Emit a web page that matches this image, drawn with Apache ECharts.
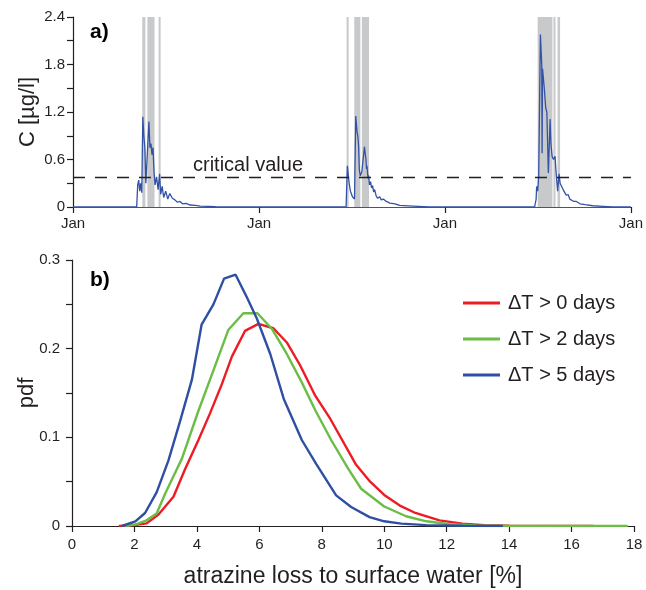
<!DOCTYPE html>
<html>
<head>
<meta charset="utf-8">
<title>atrazine loss</title>
<script src="https://cdn.jsdelivr.net/npm/echarts@6.0.0/dist/echarts.min.js"></script>
<style>
    html, body { margin: 0; padding: 0; background: #fff; }
    #chart { width: 646px; height: 590px; }
</style>
</head>
<body>
<div id="chart"></div>
<script>
'use strict';

// a) Konzentration, Tage ab dem ersten Januar
var yearTicks = [0, 365, 730, 1095];
var criticalValue = 0.37;

var concYear1 = [[0, 0], [125, 0], [127, 0.28], [129, 0.34], [131, 0.2], [133, 0.3], [135, 0.18],
    [137, 1.14], [139, 0.9], [141, 0.75], [143, 0.3], [145, 0.28], [149, 1.08], [151, 0.75],
    [153, 0.8], [155, 0.66], [157, 0.75], [159, 0.45], [161, 0.28], [164, 0.38], [167, 0.22],
    [170, 0.42], [172, 0.16], [175, 0.26], [178, 0.12], [182, 0.2], [186, 0.1], [190, 0.17],
    [195, 0.11], [200, 0.09], [205, 0.06], [210, 0.07], [215, 0.04], [222, 0.045], [230, 0.025],
    [240, 0.02], [250, 0.012], [265, 0.008], [280, 0.004], [300, 0.002], [330, 0]];
var concYear2 = [[536, 0], [538.5, 0.52], [542, 0.3], [544.5, 0.2], [548.5, 0.13], [552.5, 0.1],
    [555, 1.15], [557.5, 0.95], [559, 0.9], [560.5, 0.77], [562, 0.47], [564, 0.39], [567, 0.45],
    [572, 0.76], [575, 0.6], [576, 0.48], [577, 0.52], [579, 0.36], [580, 0.4], [582, 0.28],
    [584, 0.32], [586, 0.24], [588, 0.27], [590, 0.19], [592, 0.22], [595, 0.14], [598, 0.11],
    [602, 0.13], [605, 0.09], [609, 0.1], [615, 0.07], [622, 0.05], [632, 0.04], [641, 0.02],
    [658, 0.015], [677, 0.008], [700, 0]];
var concYear3 = [[906, 0], [909, 0.1], [910, 0.26], [912, 0.2], [914, 0.39], [917.4, 2.18],
    [920, 1.8], [920.7, 0.68], [921.5, 1.75], [923.3, 1.73], [925, 1.5], [927.8, 1.25], [930, 1.2],
    [933, 0.43], [936.4, 1.11], [938, 0.8], [940.3, 0.64], [943, 0.6], [946.1, 0.64], [948, 0.45],
    [951.2, 0.2], [954, 0.42], [956, 0.3], [959, 0.32], [962, 0.22], [965.6, 0.22], [968, 0.15],
    [972, 0.155], [975, 0.1], [978.5, 0.09], [983, 0.07], [988, 0.07], [995, 0.04], [1005, 0.03],
    [1020, 0.016], [1040, 0.008], [1060, 0], [1095, 0]];

// graue Balken (Tage)
var bandStart = [136, 146, 168, 537, 552, 567, 912, 943, 951];
var bandEnd = [142, 160, 172, 541, 564, 581, 941, 947, 956];

// b) pdf der Verluste
var seriesNames = ['\u0394T > 0 days', '\u0394T > 2 days', '\u0394T > 5 days'];
var lossDT0 = [[1.5, 0], [2.0, 0.001], [2.39, 0.003], [2.77, 0.013], [3.25, 0.033], [3.62, 0.064],
    [4.05, 0.097], [4.42, 0.127], [4.8, 0.16], [5.12, 0.191], [5.54, 0.22], [5.97, 0.228],
    [6.45, 0.223], [6.88, 0.207], [7.31, 0.181], [7.79, 0.147], [8.27, 0.121], [9.1, 0.069],
    [9.55, 0.05], [10.0, 0.035], [10.5, 0.023], [11.0, 0.0147], [11.77, 0.0064], [12.5, 0.0027],
    [13.2, 0.001], [14, 0.0004], [15, 0.0001], [16.7, 0]];
var lossDT2 = [[1.7, 0], [2.07, 0.002], [2.39, 0.0064], [2.71, 0.014], [2.99, 0.037], [3.52, 0.076],
    [4.05, 0.13], [4.53, 0.1755], [5.01, 0.2214], [5.49, 0.24], [5.94, 0.24], [6.4, 0.2225],
    [6.88, 0.194], [7.36, 0.162], [7.8, 0.13], [8.3, 0.097], [8.84, 0.065], [9.26, 0.042],
    [10.0, 0.022], [10.7, 0.011], [11.35, 0.0053], [12.1, 0.002], [12.95, 0.0005], [14, 0.0001],
    [17.8, 0]];
var lossDT5 = [[1.6, 0], [2.03, 0.0053], [2.34, 0.0147], [2.71, 0.038], [3.09, 0.074], [3.46, 0.118],
    [3.84, 0.165], [4.15, 0.227], [4.53, 0.25], [4.87, 0.279], [5.24, 0.2834], [5.6, 0.258],
    [5.92, 0.234], [6.35, 0.194], [6.78, 0.1436], [7.36, 0.097], [7.82, 0.07], [8.46, 0.0346],
    [8.94, 0.0214], [9.53, 0.01], [10.0, 0.0053], [10.55, 0.0027], [11.35, 0.001], [12.5, 0.0002],
    [13.8, 0]];
var lossColors = ['#ed1c24', '#6abd45', '#2e4fa3'];

var FONT = '"Liberation Sans", Arial, sans-serif';
var INK = '#231f20';

function axisBase() {
    return {
        axisLine: {show: true, lineStyle: {color: INK, width: 1.2}},
        axisTick: {show: true, inside: false, length: 6, lineStyle: {color: INK, width: 1.2}},
        splitLine: {show: false},
        axisLabel: {color: INK, fontSize: 15, fontFamily: FONT},
        nameMoveOverlap: false,
        nameTextStyle: {color: INK, fontSize: 21, fontFamily: FONT}
    };
}

function initChart() {
    var chart = echarts.init(document.getElementById('chart'), null, {renderer: 'canvas'});

    var bands = bandStart.map(function (s, i) {
        return [{xAxis: s}, {xAxis: bandEnd[i]}];
    });

    var xa = axisBase();
    xa.type = 'value'; xa.gridIndex = 0; xa.min = yearTicks[0]; xa.max = yearTicks[yearTicks.length - 1];
    xa.interval = 365;
    xa.axisLabel.formatter = function () { return 'Jan'; };
    xa.axisLabel.margin = 9;
    xa.axisLine.lineStyle.color = '#555';

    var ya = axisBase();
    ya.type = 'value'; ya.gridIndex = 0; ya.min = 0; ya.max = 2.4; ya.interval = 0.3;
    ya.name = 'C [\u00b5g/l]'; ya.nameLocation = 'middle'; ya.nameRotate = 90; ya.nameGap = 34;
    ya.nameTextStyle.fontSize = 22;
    ya.axisLabel.margin = 8;
    ya.axisLabel.formatter = function (v) {
        var k = Math.round(v / 0.3);
        if (k % 2 !== 0) return '';
        return k === 0 ? '0' : v.toFixed(1);
    };

    var xb = axisBase();
    xb.type = 'value'; xb.gridIndex = 1; xb.min = 0; xb.max = 18; xb.interval = 2;
    xb.name = 'atrazine loss to surface water [%]'; xb.nameLocation = 'middle'; xb.nameGap = 39;
    xb.nameTextStyle.fontSize = 23;
    xb.axisLabel.margin = 11;

    var yb = axisBase();
    yb.type = 'value'; yb.gridIndex = 1; yb.min = 0; yb.max = 0.3; yb.interval = 0.05;
    yb.name = 'pdf'; yb.nameLocation = 'middle'; yb.nameRotate = 90; yb.nameGap = 34;
    yb.nameTextStyle.fontSize = 22;
    yb.axisLabel.margin = 12;
    yb.axisLabel.formatter = function (v) {
        var k = Math.round(v / 0.05);
        if (k % 2 !== 0) return '';
        return k === 0 ? '0' : v.toFixed(1);
    };

    var lossSeries = [lossDT0, lossDT2, lossDT5].map(function (d, i) {
        return {
            name: seriesNames[i],
            type: 'line',
            xAxisIndex: 1, yAxisIndex: 1,
            data: d,
            showSymbol: false,
            symbol: 'none',
            z: 3 + i,
            lineStyle: {color: lossColors[i], width: 2.4},
            itemStyle: {color: lossColors[i]}
        };
    });

    chart.setOption({
        animation: false,
        backgroundColor: '#fff',
        grid: [
            {left: 73, top: 17, width: 560, height: 190, containLabel: false},
            {left: 72, top: 260, width: 562, height: 266, containLabel: false}
        ],
        xAxis: [xa, xb],
        yAxis: [ya, yb],
        legend: {
            orient: 'vertical',
            left: 458, top: 288,
            itemWidth: 37, itemHeight: 3, itemGap: 16,
            icon: 'rect',
            data: seriesNames,
            textStyle: {color: INK, fontSize: 20, fontFamily: FONT, padding: [0, 0, 0, 3]}
        },
        graphic: [
            {type: 'text', left: 90, top: 22, style: {text: 'a)', font: 'bold 21px ' + FONT, fill: '#000'}},
            {type: 'text', left: 90, top: 270, style: {text: 'b)', font: 'bold 21px ' + FONT, fill: '#000'}},
            {type: 'text', left: 193, top: 155, style: {text: 'critical value', font: '20px ' + FONT, fill: INK}}
        ],
        series: [{
            name: 'bands',
            type: 'line',
            xAxisIndex: 0, yAxisIndex: 0,
            data: [],
            z: 1,
            markArea: {
                silent: true,
                itemStyle: {color: '#c8c9cb', opacity: 1},
                data: bands
            }
        }, {
            name: 'C',
            type: 'line',
            xAxisIndex: 0, yAxisIndex: 0,
            data: concYear1.concat(concYear2, concYear3),
            showSymbol: false,
            symbol: 'none',
            z: 3,
            lineStyle: {color: '#3352a6', width: 1.3},
            markLine: {
                silent: true,
                symbol: 'none',
                label: {show: false},
                lineStyle: {color: INK, type: [12, 10], width: 1.3},
                data: [{yAxis: criticalValue}]
            }
        }].concat(lossSeries)
    });

    return chart;
}

initChart();
</script>
</body>
</html>
